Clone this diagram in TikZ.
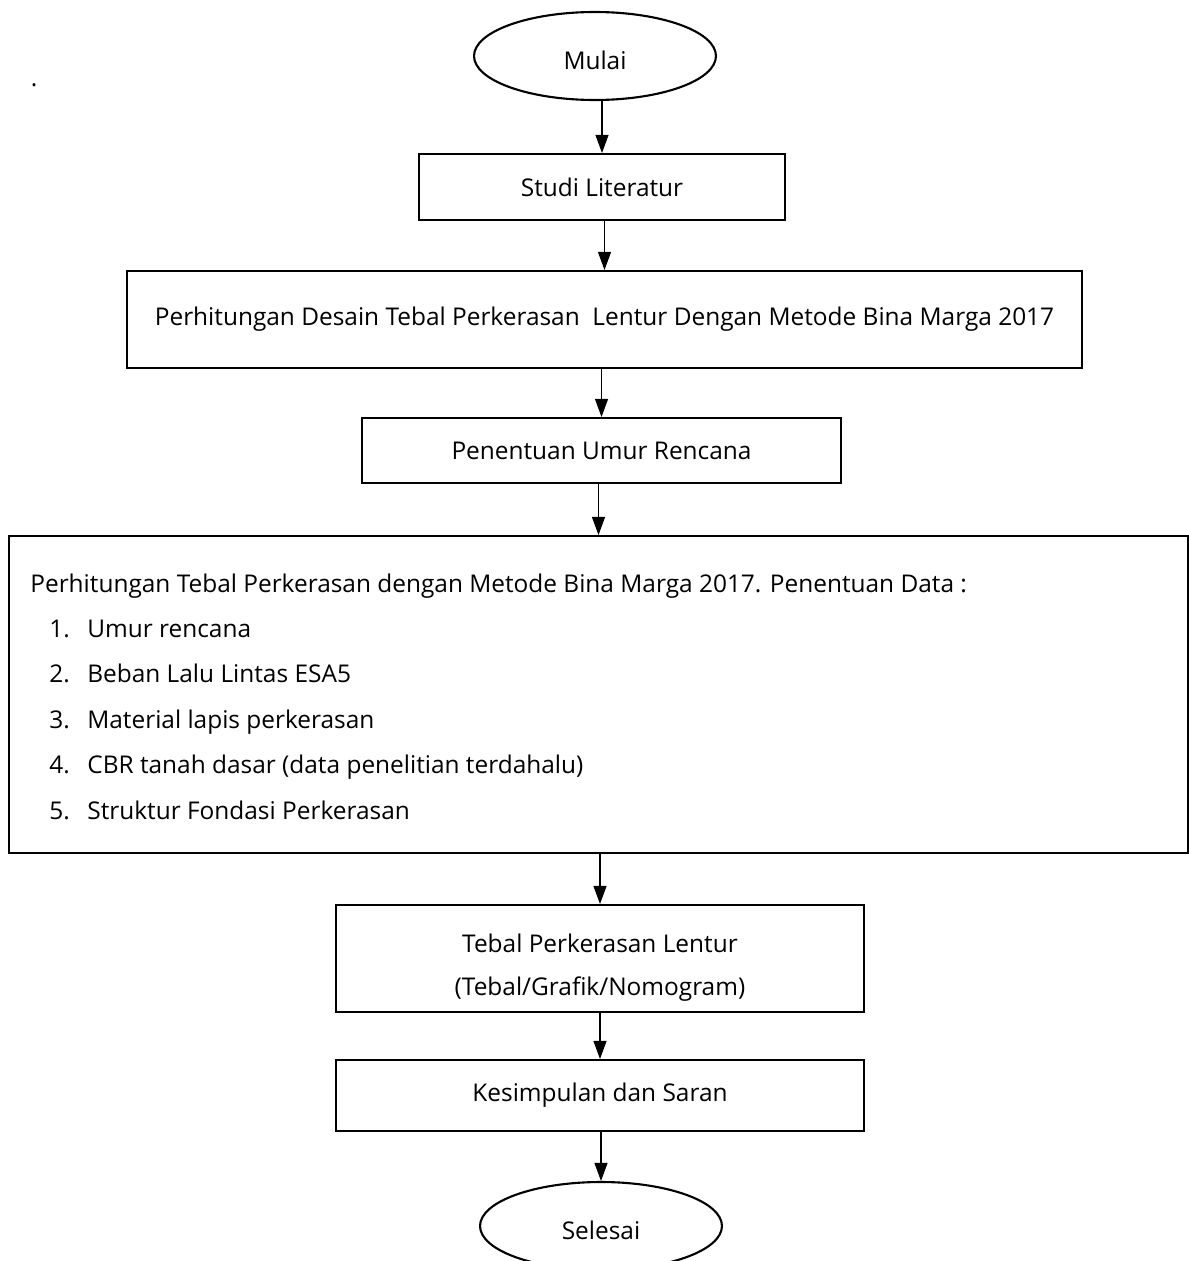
\documentclass[tikz,border=0pt]{standalone}
\usepackage{fontspec}
\setmainfont{Open Sans}
\usetikzlibrary{positioning, shapes.geometric, arrows.meta}
\newcommand{\garis}{black}
\tikzset{kotak/.style 2 args={draw=\garis, line width=1.2pt, minimum width=#1, minimum height=#2, inner sep=0pt, align=center},
	ujung/.style={ellipse, draw=\garis, line width=1.2pt, minimum width=4.84cm, minimum height=1.76cm, inner sep=0pt},
	panah/.style={-{Triangle[length=0.36cm,width=0.26cm]}, line width=0.6pt},
	isi/.style={anchor=base west, inner sep=0pt}}

\begin{document}
\begin{tikzpicture}[x=0.02cm, y=-0.02cm, font=\fontsize{13.9}{16}\selectfont]
	\useasboundingbox (0,0) rectangle (1189,1261);
	\node (titik) at (34,85) {.};
	%%
	\node[ujung] (mulai) at (595,56) {\rule{0pt}{15pt}Mulai};
	\node[kotak={7.32cm}{1.32cm}] (studi) at (602,187) {Studi Literatur};
	\node[kotak={19.1cm}{1.94cm}] (desain) at (604.5,319.5) {Perhitungan Desain Tebal Perkerasan\ \ Lentur Dengan Metode Bina Marga 2017};
	\node[kotak={9.58cm}{1.3cm}] (umur) at (601.5,450.5) {Penentuan Umur Rencana};
	\node[kotak={23.58cm}{6.34cm}] (data) at (598.5,694.5) {};
	\node[kotak={10.56cm}{2.14cm}, font=\fontsize{13.9}{24}\selectfont] (tebal) at (600,958.5) {\rule{0pt}{21pt}Tebal Perkerasan Lentur\\(Tebal/Grafik/Nomogram)};
	\node[kotak={10.56cm}{1.42cm}] (simpul) at (600,1095.5) {Kesimpulan dan Saran};
	\node[ujung] (selesai) at (601,1226) {\rule{0pt}{15pt}Selesai};
	%%
	\node[isi] (judul) at (30,592) {Perhitungan Tebal Perkerasan dengan Metode Bina Marga 2017. Penentuan Data :};
	\foreach \n/\teks in {1/Umur rencana, 2/Beban Lalu Lintas ESA5, 3/Material lapis perkerasan, 4/CBR tanah dasar (data penelitian terdahalu), 5/Struktur Fondasi Perkerasan} {
		\node[isi] (no\n) at (49,{592+45.4*\n}) {\n.};
		\node[isi] (item\n) at (87,{592+45.4*\n}) {\teks};
	}
	%%
	\foreach \a/\b in {mulai/studi, studi/desain, desain/umur, umur/data, data/tebal, tebal/simpul, simpul/selesai} {
		\draw[panah] (\b.north |- \a.south) -- (\b.north);
	}
\end{tikzpicture}
\end{document}
